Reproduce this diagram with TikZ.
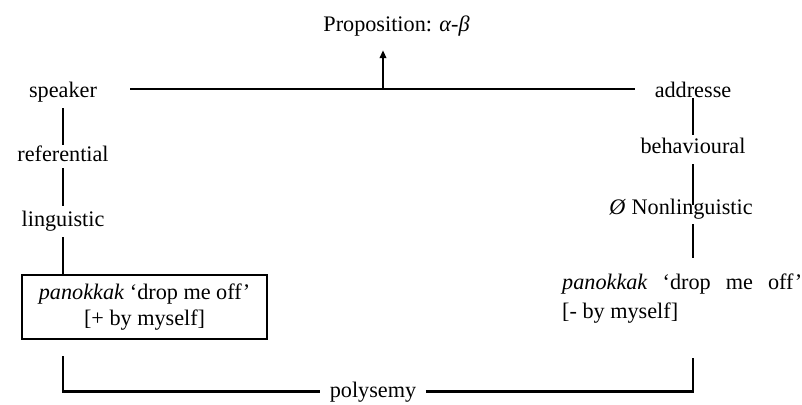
\documentclass[tikz,border=0pt]{standalone}
\usepackage{fontspec}
\setmainfont{Liberation Serif}
\usetikzlibrary{arrows.meta}
\begin{document}
\begin{tikzpicture}[x=1bp,y=-1bp,
  lbl/.style={inner sep=0pt, text height=15.5bp, text depth=4.5bp, anchor=base},
  conn/.style={line width=2.2bp},
  font=\fontsize{22.3}{27}\selectfont]
\useasboundingbox (0,0) rectangle (802,404);

\node[lbl] (prop) at (396.5,31) {Proposition: \textit{α-β}};
\node[lbl] (speaker) at (63,97) {speaker};
\node[lbl] (addr) at (693,97) {addresse};
\node[lbl] (ref) at (63,161) {referential};
\node[lbl] (ling) at (63,226) {linguistic};
\node[lbl] (behav) at (693,153) {behavioural};
\node[lbl] (nonling) at (681,214) {\textit{Ø} Nonlinguistic};
\node[draw, line width=2.2bp, minimum width=245bp, minimum height=64bp,
      anchor=north west, inner sep=0pt, align=center] (box) at (21,274)
  {\textit{panokkak} ‘drop me off’\\ {[}+ by myself{]}};
\node[anchor=north west, inner sep=0pt, align=left,
      font=\fontsize{22.3}{29}\selectfont] (rt) at (562,274)
  {\makebox[240bp][s]{\textit{panokkak} ‘drop me off’}\\ {[}- by myself{]}};
\node[lbl, inner xsep=9.5bp] (poly) at (373,397) {polysemy};

\coordinate (hl) at (130,89);
\coordinate (hr) at (635,89);
\coordinate (mid) at (383,89);

\draw[conn] (hl) -- (hr);
\draw[conn, -{Triangle[length=8bp,width=6.5bp]}, shorten >=14.5bp] (mid) -- (mid |- prop.south);

\draw[conn, shorten <=6.5bp] (speaker.south) -- (ref.north);
\draw[conn, shorten <=2.5bp, shorten >=4.5bp] (ref.south) -- (ling.north);
\draw[conn, shorten <=6.5bp] (ling.south) -- (ling.south |- box.north);
\draw[conn, shorten <=16bp] (ling.south |- box.south) |- (poly.west);
\draw[conn, shorten >=34bp] (poly.east) -| (addr.south |- rt.south);

\draw[conn, shorten <=-3.5bp, shorten >=2.5bp] (addr.south) -- (behav.north);
\draw[conn, shorten <=6.5bp, shorten >=-6.5bp] (behav.south) -- (behav.south |- nonling.north);
\draw[conn, shorten <=5.5bp, shorten >=16bp] (behav.south |- nonling.south) -- (behav.south |- rt.north);
\end{tikzpicture}
\end{document}
